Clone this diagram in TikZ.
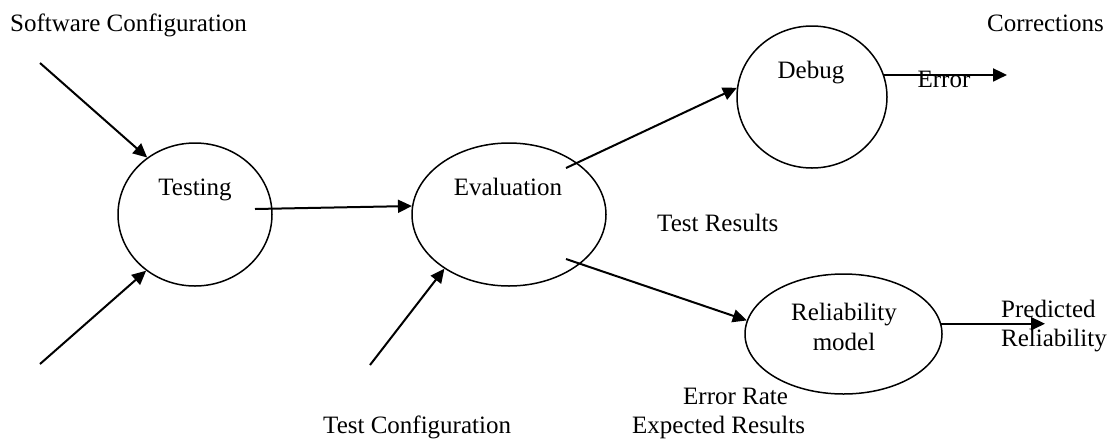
\documentclass[tikz,border=0pt]{standalone}
\usepackage{fontspec}
\setmainfont{Liberation Serif}
\usetikzlibrary{shapes.geometric,arrows.meta}
\begin{document}
\begin{tikzpicture}[x=1pt,y=-1pt,
  bub/.style={ellipse,draw,line width=1.5pt,inner sep=0pt},
  lbl/.style={font=\fontsize{25}{30}\selectfont,inner sep=0pt,anchor=base},
  lblw/.style={lbl,anchor=base west},
  arr/.style={line width=2pt,-{Triangle[length=14pt,width=13pt]}}]
\useasboundingbox (0,0) rectangle (1108,440);
% bubbles
\node[bub,minimum width=154pt,minimum height=143pt] (testing) at (195,214.5) {};
\node[bub,minimum width=194pt,minimum height=143pt] (eval) at (509,214.5) {};
\node[bub,minimum width=150pt,minimum height=142pt] (debug) at (812,97) {};
\node[bub,minimum width=197pt,minimum height=120pt] (rel) at (843.5,334) {};
% texts
\node[lblw] (swconf) at (10,31) {Software Configuration};
\node[lblw] (corrtxt) at (987,31) {Corrections};
\node[lbl] (testtxt) at (195,195) {Testing};
\node[lbl] (evaltxt) at (508,195) {Evaluation};
\node[lbl] (debugtxt) at (811,78) {Debug};
\node[lbl] (errtxt) at (944,87) {Error};
\node[lblw] (restxt) at (657,231) {Test Results};
\node[lbl] (relA) at (844,320) {Reliability};
\node[lbl] (relB) at (844,350) {model};
\node[lblw] (predA) at (1001,317) {Predicted};
\node[lblw] (predB) at (1001,346) {Reliability};
\node[lblw] (ratetxt) at (683,404) {Error Rate};
\node[lblw] (exptxt) at (632,433) {Expected Results};
\node[lblw] (tconf) at (323,433) {Test Configuration};
% free ends
\coordinate (sw1) at (40,63);
\coordinate (sw2) at (40,364);
\coordinate (tc) at (370,365);
\coordinate (tout) at (255,209);
\coordinate (eout1) at (566,168);
\coordinate (eout2) at (566,259);
\coordinate (corr) at (1007,74);
\coordinate (pred) at (1045,323);
% connectors
\draw[arr] (sw1) -- (testing.130);
\draw[arr] (sw2) -- (testing.229);
\draw[arr] (tout) -- (eval.175);
\draw[arr] (tc) -- (eval.220);
\draw[arr] (eout1) -- (debug.173);
\draw[arr] (eout2) -- (rel.172);
\draw[arr] (debug.17) -- (debug.17 -| corr);
\draw[arr] (rel.6) -- (rel.6 -| pred);
\end{tikzpicture}
\end{document}
